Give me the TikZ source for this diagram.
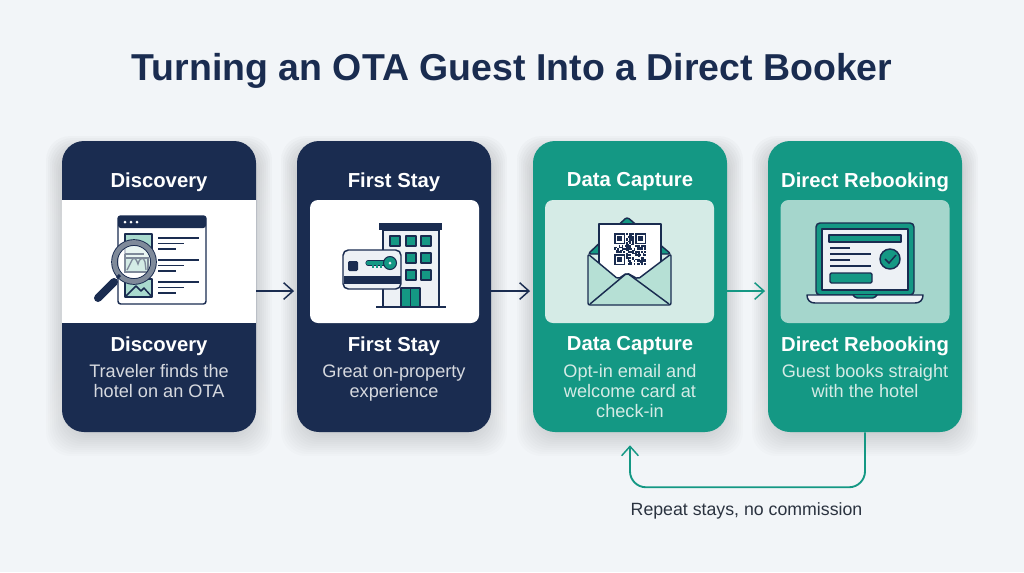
\documentclass[tikz,border=0pt]{standalone}
\usepackage{fontspec}
\setmainfont{Liberation Sans}
\usetikzlibrary{arrows.meta,positioning}
\definecolor{navy}{HTML}{1A2C50}
\definecolor{teal1}{HTML}{149884}
\definecolor{paper}{HTML}{F2F5F8}
\definecolor{mint}{HTML}{A9DACE}
\definecolor{pale}{HTML}{D5EBE6}
\definecolor{sage}{HTML}{A5D6CC}
\definecolor{wall}{HTML}{EDF1F5}
\definecolor{lensgray}{HTML}{7F8A9A}
\definecolor{shade}{HTML}{4A5462}
\definecolor{ink}{HTML}{2B3340}
\tikzset{
  >={Straight Barb[length=7pt,width=12.5pt,line width=1.1pt]},
  card/.style={minimum width=145.5pt,minimum height=218.25pt,rounded corners=16.5pt,inner sep=0pt},
  panel/.style={minimum width=126.75pt,minimum height=92.25pt,rounded corners=6pt,inner sep=0pt},
  head/.style={text=white,font=\bfseries\fontsize{15.2}{18}\selectfont},
  blurb/.style={anchor=north,align=center,font=\fontsize{13.6}{15}\selectfont},
  icon/.style={draw=navy,line width=1.1pt,line join=round},
  flow/.style={line width=1.1pt,->},
}
\newcommand{\cardshadow}[1]{%
  \foreach \g in {2,4,...,24}
    \fill[shade,opacity=0.011,rounded corners=18pt] (#1+8-\g,160-\g) rectangle (#1+186+\g,432+\g);
}
\begin{document}
\begin{tikzpicture}[x=0.75pt,y=-0.75pt]
  \fill[paper] (0,0) rectangle (1024,572);
  \node[text=navy,font=\bfseries\fontsize{28.1}{34}\selectfont] (title) at (512,71) {Turning an OTA Guest Into a Direct Booker};

  % shadows
  \cardshadow{62}
  \cardshadow{297}
  \cardshadow{533}
  \cardshadow{768}

  % cards
  \node[card,fill=navy] (discovery) at (159,286.5) {};
  \node[card,fill=navy] (firststay) at (394,286.5) {};
  \node[card,fill=teal1] (capture) at (630,286.5) {};
  \node[card,fill=teal1] (rebooking) at (865,286.5) {};

  % panels
  \node[panel,fill=white,minimum width=145.5pt,rounded corners=0pt] (discoverypanel) at (159,261.5) {};
  \node[panel,fill=white] (firststaypanel) at (394.5,261.5) {};
  \node[panel,fill=pale] (capturepanel) at (629.5,261.5) {};
  \node[panel,fill=sage] (rebookingpanel) at (865,261.5) {};

  % headings and text
  \node[head] (discoverytop) at (159,182) {Discovery};
  \node[head] (firststaytop) at (394,182) {First Stay};
  \node[head] (capturetop) at (630,182) {Data Capture};
  \node[head] (rebookingtop) at (865,182) {Direct Rebooking};
  \node[head] (discoveryname) at (159,346) {Discovery};
  \node[head] (firststayname) at (394,346) {First Stay};
  \node[head] (capturename) at (630,346) {Data Capture};
  \node[head] (rebookingname) at (865,346) {Direct Rebooking};
  \node[blurb,text=navy!18!white] (discoverytext) at (159,360) {Traveler finds the\\hotel on an OTA};
  \node[blurb,text=navy!18!white] (firststaytext) at (394,360) {Great on-property\\experience};
  \node[blurb,text=pale] (capturetext) at (630,360) {Opt-in email and\\welcome card at\\check-in};
  \node[blurb,text=pale] (rebookingtext) at (865,360) {Guest books straight\\with the hotel};

  % connectors
  \draw[flow,navy] ([yshift=-3.4pt]discovery.east) -- ([yshift=-3.4pt,xshift=-2pt]firststay.west);
  \draw[flow,navy] ([yshift=-3.4pt]firststay.east) -- ([yshift=-3.4pt,xshift=-2pt]capture.west);
  \draw[flow,teal1] ([yshift=-3.4pt]capture.east) -- ([yshift=-3.4pt,xshift=-2pt]rebooking.west);
  \draw[flow,teal1,line width=1.4pt,rounded corners=12pt] (rebooking.south) -- ++(0,55) -| ([yshift=-9.75pt]capture.south);
  \node[text=ink,font=\fontsize{13.3}{15}\selectfont] (repeat) at (746.5,511) {Repeat stays, no commission};

  % icon: browser and magnifier
  \draw[icon,fill=white,rounded corners=2pt] (118,216) rectangle (206,304);
  \fill[navy,rounded corners=2pt] (118,216) rectangle (206,228);
  \foreach \x in {125,131,137}
    \fill[white] (\x,222) circle (1.5);
  \draw[icon,fill=mint] (125,234) rectangle (152,272);
  \draw[icon,fill=mint] (125,279) rectangle (152,297);
  \draw[icon] (125,297) -- (136,286) -- (141,291) -- (144,288) -- (152,297);
  \foreach \y in {238,260,282} {
    \draw[navy,line width=1.1pt] (158,\y) -- (199,\y);
    \draw[navy,line width=1.1pt] (158,\y+5.5) -- (184,\y+5.5);
    \draw[navy,line width=1.1pt] (158,\y+11) -- (176,\y+11);
  }
  \fill[white,opacity=0.75] (134,262) circle (20);
  \draw[lensgray,line width=1pt,fill=mint!50!white] (125,258) rectangle (148,272);
  \draw[lensgray,line width=1pt] (125,254) -- (125,258) (125,254) -- (144,254);
  \draw[lensgray,line width=1pt] (127,270) -- (132,260) .. controls (134,257) and (136,258) .. (138,264) .. controls (139,258) and (144,256) .. (145,262) -- (146,270);
  \draw[navy,line width=5pt] (134,262) circle (19.5);
  \draw[lensgray,line width=3.6pt] (134,262) circle (19.5);
  \draw[navy,line width=2.2pt] (117,278) -- (120,275);
  \draw[navy,line width=6pt,line cap=round] (114,282) -- (98,298);

  % icon: hotel and key card
  \draw[icon,fill=wall] (383,230) rectangle (439,307);
  \fill[navy] (379,223) rectangle (442,230);
  \draw[icon,fill=teal1] (390,236) rectangle (400,246);
  \foreach \x in {406,421}
    \foreach \y in {236,253,270}
      \draw[icon,fill=teal1] (\x,\y) rectangle (\x+10,\y+10);
  \draw[icon,fill=teal1] (401,288) rectangle (420,307);
  \draw[icon] (410.5,288) -- (410.5,307);
  \draw[navy,line width=1.3pt] (376,307) -- (446,307);
  \draw[icon,fill=wall,rounded corners=4pt] (343,250) rectangle (401,289);
  \fill[navy] (343.5,276) rectangle (400.5,284);
  \fill[navy,rounded corners=1pt] (348,261) rectangle (358,271);
  \draw[navy,line width=3.8pt,line cap=round] (368,263) -- (384,263);
  \draw[teal1,line width=2.8pt,line cap=round] (368,263) -- (385,263);
  \draw[teal1,line width=2pt] (373,265) -- (373,268) (377,265) -- (377,268) (381,265) -- (381,268);
  \draw[navy,line width=0.8pt,fill=teal1] (390,263) circle (6.5);
  \fill[wall] (390,263) circle (1.5);

  % icon: envelope and QR code
  \draw[icon,fill=teal1,rounded corners=2pt] (588,254) -- (627,217) -- (671,254) -- cycle;
  \draw[icon,fill=white] (599,224) rectangle (661,285);
  \foreach \x/\y in {614/233,635/233,614/254} {
    \draw[navy,line width=1.2pt] (\x+.7,\y+.7) rectangle (\x+10.3,\y+10.3);
    \fill[navy] (\x+3.2,\y+3.2) rectangle (\x+7.8,\y+7.8);
  }
  \pgfmathsetseed{11}
  \foreach \i in {0,...,20}
    \foreach \j in {0,...,20} {
      \pgfmathparse{(\i<8 && \j<8) || (\i>12 && \j<8) || (\i<8 && \j>12) || rnd<0.42 ? 0 : 1}
      \ifnum\pgfmathresult=1
        \fill[navy] (614+\i*1.52,233+\j*1.52) rectangle ++(1.52,1.52);
      \fi
    }
  \draw[icon,fill=mint!85!white,rounded corners=1.5pt] (588,254) -- (618,279) -- (627,273) -- (638,279) -- (671,254) -- (671,305) -- (588,305) -- cycle;
  \draw[icon,rounded corners=1.5pt] (590,304) -- (627,273) -- (669,304);

  % icon: laptop
  \draw[icon,fill=teal1,rounded corners=3pt] (816,223) rectangle (914,295);
  \draw[icon,fill=wall] (822,229) rectangle (908,290);
  \draw[icon,fill=teal1] (829,235) rectangle (901,242);
  \foreach \y/\x in {248/850,254/871,260/850,266/871}
    \draw[navy,line width=1.1pt] (830,\y) -- (\x,\y);
  \draw[icon,fill=teal1,rounded corners=1pt] (830,273) rectangle (872,283);
  \draw[icon,fill=teal1] (890,259) circle (10);
  \draw[navy,line width=1.1pt] (885,259) -- (889,263) -- (896,255);
  \draw[icon,fill=wall] (807,295) -- (923,295) .. controls (923,300) and (920,303) .. (915,303) -- (815,303) .. controls (810,303) and (807,300) .. (807,295) -- cycle;
  \draw[icon,fill=teal1,rounded corners=1pt] (853,295) -- (856,298) -- (874,298) -- (877,295);
\end{tikzpicture}
\end{document}
